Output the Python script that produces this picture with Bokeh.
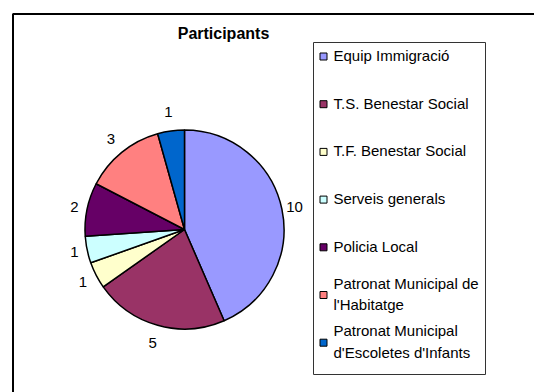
import math
from bokeh.plotting import figure
from bokeh.models import Range1d, ColumnDataSource, Label
from bokeh.core.properties import value
from bokeh.embed import file_html
from bokeh.resources import INLINE

# ---- data ----
categories = ["Equip Immigració", "T.S. Benestar Social", "T.F. Benestar Social",
              "Serveis generals", "Policia  Local",
              "Patronat Municipal de\nl'Habitatge",
              "Patronat Municipal\nd'Escoletes d'Infants"]
values = [10, 5, 1, 1, 2, 3, 1]
colors = ["#9999FF", "#993366", "#FFFFCC", "#CCFFFF", "#660066", "#FF8080", "#0066CC"]
title_text = "Participants"

W, H = 534, 392
FONT = "Liberation Sans"

p = figure(width=W, height=H, output_backend="svg", toolbar_location=None,
           x_range=Range1d(0, W), y_range=Range1d(0, H), min_border=0)
p.axis.visible = False
p.grid.visible = False
p.outline_line_color = None
p.background_fill_color = "white"
p.border_fill_color = "white"

# outer chart border: only its top and left edges fall inside the window
p.line(x=[12.5, 12.5, W + 20], y=[-20, 378.5, 378.5],
       line_color="black", line_width=2)

# ---- pie ----
cx, cy, r = 184, 163, 99.5
total = sum(values)
starts, ends, mids = [], [], []
cum = 0
for v in values:
    a0 = math.pi / 2 - 2 * math.pi * cum / total
    a1 = math.pi / 2 - 2 * math.pi * (cum + v) / total
    starts.append(a0)
    ends.append(a1)
    mids.append((a0 + a1) / 2)
    cum += v

src = ColumnDataSource(dict(start=starts, end=ends, color=colors,
                            x=[cx] * len(values), y=[cy] * len(values)))
p.wedge(x="x", y="y", radius=r, start_angle="start", end_angle="end",
        direction="clock", fill_color="color", line_color="black",
        line_width=1.5, source=src)

lx, ly = [], []
for m in mids:
    d = r + 11.5 + 7.2 * abs(math.sin(m))
    lx.append(cx + d * math.cos(m))
    ly.append(cy + d * math.sin(m))
p.text(x=lx, y=ly, text=[str(v) for v in values], text_align="center",
       text_baseline="middle", text_font=value(FONT), text_font_size="15px",
       text_color="black")

# ---- title ----
p.add_layout(Label(x=223, y=359, text=title_text, text_align="center",
                   text_baseline="middle", text_font=FONT, text_color="black",
                   text_font_size="16px", text_font_style="bold"))

# ---- legend (drawn manually) ----
p.quad(left=[313], right=[485], bottom=[18], top=[350],
       fill_color="white", line_color="#333333", line_width=1)
row0, step = 336, 47.7
ry = [row0 - i * step for i in range(len(categories))]
p.rect(x=[323] * len(categories), y=ry, width=7, height=7,
       fill_color=colors, line_color="black", line_width=1)
p.text(x=[333] * len(categories), y=[y + 1 for y in ry], text=categories,
       text_align="left", text_baseline="middle", text_font=value(FONT),
       text_font_size="15px", text_color="black", text_line_height=1.27)

open("out.html", "w").write(file_html(p, INLINE))
